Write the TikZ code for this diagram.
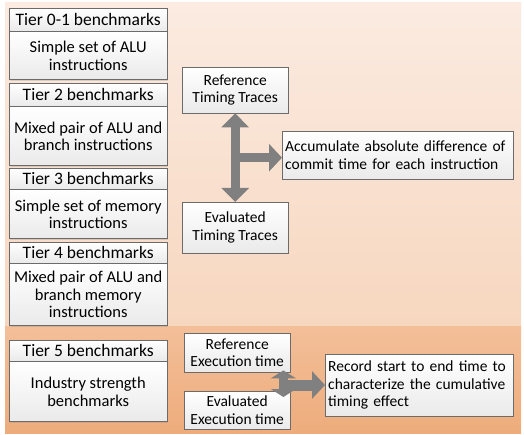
\documentclass[tikz,border=0pt]{standalone}
\usepackage{fontspec}
\setmainfont{Carlito}
\usetikzlibrary{arrows.meta,shadows,calc}
\pgfdeclarelayer{bglayer}
\pgfsetlayers{bglayer,main}
\definecolor{peachtop}{HTML}{FBEBE1}
\definecolor{peachbot}{HTML}{F7D7BF}
\definecolor{orangetop}{HTML}{F3BF99}
\definecolor{orangebot}{HTML}{EEAC7B}
\definecolor{boxline}{HTML}{6B6B6B}
\definecolor{boxshade}{HTML}{EAEAEA}
\definecolor{arrowgray}{HTML}{808080}
\tikzstyle{box}=[draw=boxline,top color=white,bottom color=boxshade,inner sep=3pt,align=center,anchor=north west,drop shadow={opacity=0.25,shadow xshift=1pt,shadow yshift=-1pt}]
\tikzstyle{tier}=[box,minimum width=158pt,font=\fontsize{16.5}{17.5}\selectfont]
\tikzstyle{tierhead}=[tier,font=\fontsize{17.5}{19}\selectfont]
\tikzstyle{trace}=[box,minimum width=106pt]
\tikzstyle{task}=[box,align=left]
\tikzstyle{fatline}=[draw=arrowgray,line width=9pt]

\begin{document}
\begin{tikzpicture}[x=1pt,y=-1pt,font=\fontsize{15.5}{17.5}\selectfont]
	\useasboundingbox (0,0) rectangle (524,435);
	\begin{pgfonlayer}{bglayer}
		\fill [top color=peachtop,bottom color=peachbot] (5,3) rectangle (521,326);
		\fill [top color=orangetop,bottom color=orangebot] (5,326) rectangle (521,433);
	\end{pgfonlayer}
	% benchmark tiers
	\node [style=tierhead,minimum height=23pt] (0) at (9,8) {Tier 0-1 benchmarks};
	\node [style=tier,minimum height=48pt] (1) at (0.south west) {Simple set of ALU\\instructions};
	\node [style=tierhead,minimum height=23pt] (2) at (9,83) {Tier 2 benchmarks};
	\node [style=tier,minimum height=59pt] (3) at (2.south west) {Mixed pair of ALU and\\branch instructions};
	\node [style=tierhead,minimum height=21pt] (4) at (9,168) {Tier 3 benchmarks};
	\node [style=tier,minimum height=49pt] (5) at (4.south west) {Simple set of memory\\instructions};
	\node [style=tierhead,minimum height=21pt] (6) at (9,242) {Tier 4 benchmarks};
	\node [style=tier,minimum height=62pt] (7) at (6.south west) {Mixed pair of ALU and\\branch memory\\instructions};
	\node [style=tierhead,minimum height=21pt] (8) at (9,340) {Tier 5 benchmarks};
	\node [style=tier,minimum height=60pt] (9) at (8.south west) {Industry strength\\benchmarks};
	% traces
	\node [style=trace,minimum height=46pt] (10) at (182,67) {Reference\\Timing Traces};
	\node [style=trace,minimum height=51pt] (11) at (182,202) {Evaluated\\Timing Traces};
	\node [style=task,text width=225pt,minimum height=48pt] (12) at (282,131) {Accumulate absolute difference of\\commit time for each instruction};
	\node [style=trace,minimum height=39pt] (13) at (184,333) {Reference\\Execution time};
	\node [style=trace,minimum height=38pt] (14) at (184,391) {Evaluated\\Execution time};
	\node [style=task,text width=182pt,minimum height=62pt] (15) at (325,354) {Record start to end time to\\characterize the cumulative\\timing effect};

	\coordinate (j1) at ($(10.south)!0.5!(11.north)$);
	\draw [style=fatline,{Triangle[width=27pt,length=14pt]}-{Triangle[width=27pt,length=14pt]}] (10.south) -- (11.north);
	\draw [style=fatline,-{Triangle[width=27pt,length=13pt]}] (j1) -- (j1 -| 12.west);

	\coordinate (j2) at ([xshift=-7pt,yshift=2pt]13.south east);
	\coordinate (j3) at ([xshift=-7pt,yshift=-6pt]14.north east);
	\coordinate (j4) at ($(j2)!0.55!(j3)$);
	\draw [style=fatline,{Triangle[width=25pt,length=8pt]}-{Triangle[width=25pt,length=8pt]}] (j2) -- (j3);
	\draw [style=fatline,line width=11pt,-{Triangle[width=27pt,length=13pt]}] (j4) -- (j4 -| 15.west);
\end{tikzpicture}
\end{document}
